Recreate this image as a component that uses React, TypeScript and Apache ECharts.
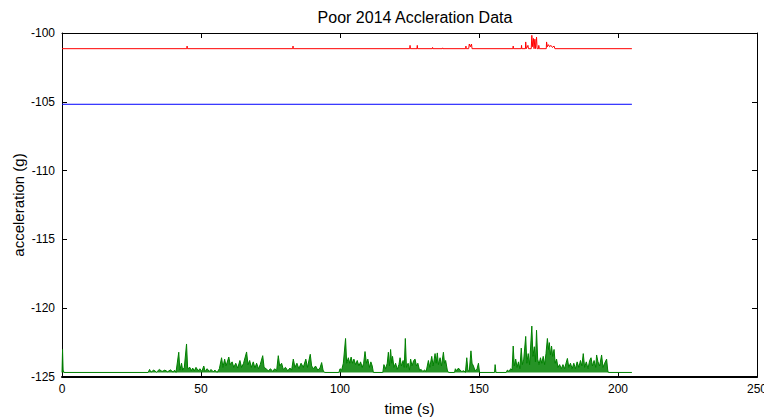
import React, { useEffect, useRef } from "react";
import * as echarts from "echarts";

// Axis ranges and tick labels
const xTicks = [0, 50, 100, 150, 200, 250];
const yTicks = [-125, -120, -115, -110, -105, -100];

// Resting level of the green channel
const greenBase = -124.67;

// Blue channel: flat trace
const blueTrace: [number, number][] = [
  [0, -105.18],
  [205, -105.18],
];

// Red channel: flat trace with a few short bursts
const redTrace: [number, number][] = [
  [0, -101.14], [44.9, -101.14], [45, -100.95], [45.1, -101.14],
  [83, -101.14], [83.1, -100.95], [83.2, -101.14],
  [125.1, -101.14], [125.2, -100.9], [125.3, -101.14],
  [127.7, -101.14], [127.8, -100.9], [127.9, -101.14],
  [133.2, -101.14], [133.3, -101.05], [133.4, -101.14],
  [136.8, -101.14], [136.9, -101.08], [137, -101.14],
  [145.2, -101.14], [145.3, -100.95], [145.4, -101.14],
  [146.3, -101.14], [146.5, -100.8], [146.9, -101.0], [147.3, -100.8], [147.5, -101.14],
  [162.2, -101.14], [162.3, -100.95], [162.4, -101.14],
  [165.2, -101.14], [165.3, -100.9], [165.4, -101.14],
  [166.7, -101.14], [166.8, -100.65], [167, -101.14],
  [167.6, -100.9], [167.8, -101.14],
  [168.8, -101.14], [169, -100.17], [169.3, -101.0], [169.6, -100.4], [169.8, -101.14],
  [170.1, -100.45], [170.3, -101.14], [170.7, -100.3], [170.9, -101.14],
  [171.4, -101.14], [171.5, -100.9], [171.7, -101.14],
  [174.2, -101.14], [174.3, -100.65], [174.6, -101.0], [175, -100.85], [175.4, -101.0],
  [175.9, -100.9], [176.4, -101.05], [177, -100.95], [177.3, -101.14],
  [205, -101.14],
];

// Green channel: noisy trace with bursts of activity
const greenTrace: [number, number][] = [
  [0, -124.67], [0.2, -123.0], [0.4, -124.5], [0.7, -124.67],
  [31, -124.67], [31.5, -124.45], [32, -124.65], [33, -124.5], [34, -124.65], [35, -124.45],
  [36, -124.6], [37, -124.5], [38, -124.62], [39, -124.48], [40, -124.65], [40.5, -124.5], [41, -124.67],
  [42, -123.2], [42.4, -124.5], [43, -124.0], [43.4, -124.5], [44, -124.3], [44.8, -122.6],
  [45.2, -124.4], [46, -124.3], [46.5, -124.55], [47, -124.35], [47.6, -124.55], [48.2, -124.3],
  [49, -124.55], [49.6, -124.4], [50.3, -124.6], [51, -124.2], [51.5, -124.6], [52.2, -124.4],
  [53, -124.6], [53.6, -124.45], [54.4, -124.62], [55, -124.5], [55.8, -124.67], [56.6, -124.4],
  [57.4, -123.6], [57.9, -124.3], [58.5, -123.7], [59, -124.2], [60, -123.55], [60.5, -124.1],
  [61.2, -123.9], [61.8, -124.3], [62.5, -124.0], [63.2, -124.35], [64, -123.8], [64.6, -124.3],
  [65.3, -124.0], [66.4, -123.18], [66.9, -124.1], [67.5, -123.8], [68.1, -124.3], [68.8, -123.9],
  [69.4, -124.35], [70, -124.0], [70.7, -124.4], [71.3, -124.1], [72.2, -123.45], [72.7, -124.3],
  [73.4, -124.4], [74.2, -124.55], [75, -124.4], [75.8, -124.6], [76.5, -124.4], [77.2, -124.55],
  [77.8, -123.45], [78.3, -124.2], [79, -124.0], [79.6, -124.45], [80.4, -124.3], [81.2, -124.55],
  [82, -124.35], [82.6, -124.5], [83.2, -123.7], [83.8, -124.3], [84.5, -124.0], [85.2, -124.4],
  [86, -124.0], [86.8, -124.3], [87.7, -123.7], [88.3, -124.3], [89.3, -123.35], [89.8, -124.2],
  [90.5, -124.4], [91.2, -124.2], [92, -124.5], [92.8, -124.35], [93.4, -123.95], [93.9, -124.5],
  [94.4, -124.67],
  [99.6, -124.67], [100, -124.4], [100.6, -124.5], [101.2, -124.0], [102, -122.2], [102.4, -124.0],
  [103, -123.6], [103.5, -124.0], [104, -123.55], [104.5, -124.0], [105, -123.7], [105.6, -124.1],
  [106.2, -123.8], [106.8, -124.2], [107.4, -123.9], [108, -124.3], [108.5, -124.0], [109, -123.15],
  [109.5, -124.0], [110, -123.7], [110.6, -124.3], [111.1, -123.9], [111.6, -124.2], [112, -124.67],
  [115.4, -124.67], [115.8, -124.1], [116.4, -124.4], [117, -124.0], [117.4, -123.2], [117.8, -124.2],
  [118.2, -123.0], [118.6, -124.0], [118.9, -123.5], [119.4, -124.3], [120, -124.0], [120.6, -124.45],
  [121.2, -124.1], [121.6, -123.6], [122.1, -124.2], [122.7, -123.8], [123.1, -124.3], [123.5, -122.2],
  [123.9, -124.3], [124.5, -124.0], [125, -124.5], [125.4, -123.7], [125.9, -124.2], [126.5, -123.8],
  [127, -123.7], [127.5, -124.2], [128, -124.0], [128.6, -124.5], [129.2, -124.45], [129.8, -124.6],
  [130.4, -124.5], [131, -124.6], [131.8, -123.8], [132.3, -124.3], [133, -123.5], [133.5, -124.2],
  [134.2, -123.3], [134.6, -124.0], [135, -123.25], [135.4, -124.1], [136, -123.6], [136.5, -124.2],
  [137.2, -123.2], [137.6, -124.0], [138, -123.8], [138.6, -124.5], [139, -124.67],
  [141.2, -124.67], [141.5, -124.4], [142, -124.55], [142.6, -124.35], [143.2, -124.5], [143.8, -124.6],
  [144.6, -124.55], [145.1, -124.67], [145.6, -123.6], [146, -124.5], [146.5, -124.6], [147.1, -123.1],
  [147.5, -124.0], [148, -124.2], [148.6, -124.55], [149.3, -124.4], [149.8, -124.0], [150.2, -124.67],
  [155.6, -124.67], [155.8, -124.1], [156.1, -124.67],
  [159.8, -124.67], [160.2, -124.5], [160.8, -124.6], [161.4, -124.4], [161.9, -124.5], [162.3, -122.75],
  [162.7, -124.2], [163.2, -123.7], [163.7, -124.3], [164.2, -123.9], [164.7, -124.4], [165.2, -122.9],
  [165.6, -124.1], [166.1, -123.7], [166.8, -122.05], [167.2, -124.0], [167.7, -123.3], [168.2, -124.1],
  [169, -121.3], [169.4, -123.5], [169.9, -122.8], [170.3, -123.9], [170.7, -121.6], [171.1, -123.7],
  [171.6, -124.1], [172.1, -123.6], [172.6, -124.0], [173.1, -123.5], [173.6, -124.1], [174.1, -123.3],
  [174.6, -122.2], [175, -123.0], [175.3, -122.5], [175.7, -123.4], [176.1, -122.75], [176.5, -123.5],
  [177, -123.0], [177.4, -124.0], [177.9, -123.7], [178.4, -124.3], [179, -124.1], [179.6, -124.4],
  [180.2, -124.1], [180.8, -124.4], [181.3, -124.0], [181.8, -123.65], [182.3, -124.3], [182.9, -124.0],
  [183.5, -124.4], [184.1, -124.0], [184.7, -124.4], [185.3, -123.9], [185.9, -124.3], [186.5, -123.8],
  [187, -124.2], [187.5, -123.3], [188, -124.3], [188.6, -123.9], [189.2, -124.4], [189.8, -123.8],
  [190.3, -123.6], [190.8, -124.2], [191.4, -123.8], [192, -124.3], [192.3, -123.4], [192.8, -123.9],
  [193.4, -124.2], [194.1, -123.4], [194.6, -124.3], [195.2, -124.0], [195.9, -123.7], [196.3, -124.5],
  [196.5, -124.67], [205, -124.67],
];

const FONT = "'Liberation Sans', Arial, sans-serif";

export default function App() {
  const ref = useRef<HTMLDivElement>(null);

  useEffect(() => {
    if (!ref.current) return;
    const chart = echarts.init(ref.current, null, { renderer: "svg" });

    const xMin = xTicks[0];
    const xMax = xTicks[xTicks.length - 1];
    const yMin = yTicks[0];
    const yMax = yTicks[yTicks.length - 1];
    const xStep = xTicks[1] - xTicks[0];
    const yStep = yTicks[1] - yTicks[0];

    const tickStyle = { show: true, inside: true, length: 5, lineStyle: { color: "#000", width: 1 } };
    const labelStyle = { color: "#000", fontSize: 12, fontFamily: FONT };

    chart.setOption({
      animation: false,
      backgroundColor: "#fff",
      title: {
        text: "Poor 2014 Accleration Data",
        left: 410,
        top: 4,
        textAlign: "center",
        textStyle: { color: "#000", fontSize: 16, fontWeight: "normal", fontFamily: FONT },
      },
      grid: { left: 62, right: 7, top: 33, bottom: 41, outerBoundsMode: "none", containLabel: false },
      xAxis: [
        {
          type: "value",
          position: "bottom",
          min: xMin,
          max: xMax,
          interval: xStep,
          name: "time (s)",
          nameLocation: "middle",
          nameGap: 24,
          nameMoveOverlap: false,
          nameTextStyle: { color: "#000", fontSize: 15, fontFamily: FONT },
          axisLine: { show: true, onZero: false, lineStyle: { color: "#000", width: 2 } },
          axisTick: tickStyle,
          axisLabel: { ...labelStyle, margin: 6, showMaxLabel: true, showMinLabel: true },
          splitLine: { show: false },
        },
        {
          type: "value",
          position: "top",
          min: xMin,
          max: xMax,
          interval: xStep,
          axisLine: { show: true, onZero: false, lineStyle: { color: "#000", width: 1 } },
          axisTick: tickStyle,
          axisLabel: { show: false },
          splitLine: { show: false },
        },
      ],
      yAxis: [
        {
          type: "value",
          position: "left",
          min: yMin,
          max: yMax,
          interval: yStep,
          name: "acceleration (g)",
          nameLocation: "middle",
          nameGap: 36,
          nameMoveOverlap: false,
          nameTextStyle: { color: "#000", fontSize: 15, fontFamily: FONT },
          axisLine: { show: true, onZero: false, lineStyle: { color: "#000", width: 1 } },
          axisTick: tickStyle,
          axisLabel: { ...labelStyle, margin: 7 },
          splitLine: { show: false },
        },
        {
          type: "value",
          position: "right",
          min: yMin,
          max: yMax,
          interval: yStep,
          axisLine: { show: true, onZero: false, lineStyle: { color: "#000", width: 1 } },
          axisTick: tickStyle,
          axisLabel: { show: false },
          splitLine: { show: false },
        },
      ],
      series: [
        {
          type: "line",
          data: greenTrace,
          showSymbol: false,
          symbol: "none",
          silent: true,
          lineStyle: { color: "#008000", width: 1 },
          areaStyle: { color: "#008000", opacity: 0.85, origin: greenBase },
          z: 1,
        },
        {
          type: "line",
          data: blueTrace,
          showSymbol: false,
          symbol: "none",
          silent: true,
          lineStyle: { color: "#0000ff", width: 1 },
          z: 2,
        },
        {
          type: "line",
          data: redTrace,
          showSymbol: false,
          symbol: "none",
          silent: true,
          lineStyle: { color: "#ff0000", width: 1 },
          z: 3,
        },
      ],
    });

    return () => chart.dispose();
  }, []);

  return <div ref={ref} style={{ width: 764, height: 418, position: "absolute", left: 0, top: 0 }} />;
}
